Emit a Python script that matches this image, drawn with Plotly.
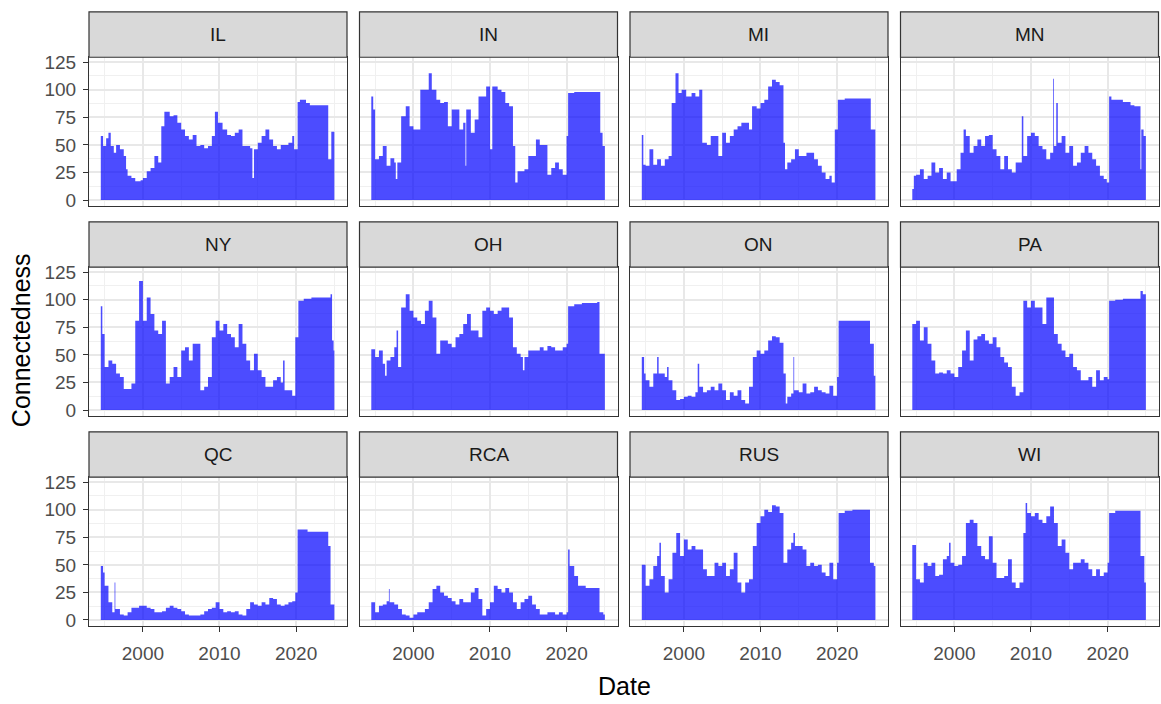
import plotly.graph_objects as go

# ---------------- data (decimal year, connectedness) ----------------
REGIONS = ["IL", "IN", "MI", "MN", "NY", "OH", "ON", "PA", "QC", "RCA", "RUS", "WI"]

IL = [(1994.5,58),(1994.8,49),(1995.2,56),(1995.5,61),(1995.8,49),(1996.2,43),(1996.5,50),(1997,46),(1997.5,40),(1997.8,28),(1998,22),(1998.5,20),(1999,17),(1999.7,18),(2000,20),(2000.5,26),(2001,29),(2001.5,40),(2002,34),(2002.4,67),(2002.8,80),(2003.5,76),(2004,77),(2004.5,70),(2005,64),(2005.5,58),(2006,55),(2006.5,59),(2007,49),(2007.5,50),(2008,47),(2008.5,49),(2009,58),(2009.4,80),(2009.8,70),(2010.4,64),(2011,59),(2011.5,58),(2012,61),(2012.5,64),(2013,49),(2014,47),(2014.3,20),(2014.5,46),(2015,52),(2015.5,58),(2016,64),(2016.5,55),(2017,49),(2017.5,46),(2018,50),(2019,52),(2019.5,58),(2019.75,46),(2020.2,89),(2020.5,91),(2021.3,88),(2021.8,86),(2024.2,37),(2024.6,62),(2025.0,62)]
IN = [(1994.5,94),(1994.75,82),(1995,37),(1995.5,40),(1996,49),(1996.5,31),(1997,38),(1997.5,34),(1997.7,19),(1997.9,34),(1998.4,76),(1999,85),(1999.5,67),(2000,64),(2000.9,100),(2002,115),(2002.4,100),(2003,91),(2003.5,88),(2004,89),(2004.5,67),(2005,82),(2006,64),(2006.5,70),(2006.8,31),(2006.9,82),(2007.5,61),(2008,73),(2008.5,94),(2009.5,103),(2010,46),(2010.3,103),(2011,100),(2011.5,98),(2012,88),(2012.5,85),(2013,49),(2013.3,16),(2013.6,26),(2014.5,28),(2015,40),(2016,55),(2016.5,50),(2017.5,23),(2018,29),(2018.5,34),(2019,28),(2019.5,23),(2020,58),(2020.2,97),(2021,98),(2024.4,61),(2024.7,49),(2025.0,49)]
MI = [(1994.5,59),(1994.7,32),(1995,31),(1995.5,46),(1996,32),(1996.5,37),(1997,31),(1997.5,37),(1998,40),(1998.4,88),(1998.9,115),(1999.3,97),(1999.7,100),(2000.3,94),(2001,97),(2001.5,94),(2002,100),(2002.4,52),(2003,50),(2003.5,58),(2004.5,40),(2005,61),(2005.5,52),(2006,58),(2006.5,64),(2007,67),(2007.5,70),(2008.5,64),(2008.9,85),(2009.5,83),(2010,88),(2010.5,91),(2011,103),(2011.5,109),(2012,107),(2012.5,104),(2013,52),(2013.2,28),(2013.5,34),(2014,37),(2014.5,46),(2015,40),(2016,43),(2017,37),(2017.5,31),(2018,25),(2018.5,19),(2019,22),(2019.3,16),(2019.7,64),(2020.1,91),(2021,92),(2024.4,64),(2025.0,64)]
MN = [(1994.5,10),(1994.7,22),(1995,23),(1995.5,28),(1996,19),(1996.5,22),(1997,34),(1997.5,25),(1998,29),(1998.5,19),(1999,25),(1999.5,17),(2000.3,28),(2000.8,43),(2001.2,64),(2001.5,58),(2002,43),(2002.5,49),(2003,55),(2003.5,49),(2004,58),(2004.5,59),(2005,46),(2005.5,40),(2006,28),(2006.5,40),(2007,28),(2007.5,25),(2008,34),(2008.8,76),(2009,40),(2009.5,58),(2010,61),(2010.5,58),(2011,49),(2011.5,46),(2012,37),(2012.5,43),(2012.9,110),(2013,49),(2013.3,88),(2013.5,52),(2014,58),(2014.5,43),(2015,49),(2015.5,31),(2016,34),(2016.5,43),(2017,49),(2017.5,43),(2018,37),(2018.5,31),(2019,22),(2019.5,19),(2019.9,16),(2020.2,94),(2020.5,91),(2022,89),(2023,86),(2023.5,85),(2024.3,28),(2024.4,64),(2024.7,58),(2025.0,58)]
NY = [(1994.5,94),(1994.7,69),(1995,39),(1995.5,45),(1996,42),(1996.5,33),(1997,30),(1997.5,19),(1998.5,24),(1999,81),(1999.5,117),(2000,81),(2000.5,102),(2001,87),(2001.5,72),(2002,69),(2002.5,81),(2003,24),(2003.5,30),(2004,39),(2004.5,30),(2005,54),(2005.5,57),(2006,45),(2006.5,60),(2007.5,18),(2008,21),(2008.5,30),(2009,66),(2009.5,81),(2010,72),(2010.5,78),(2011,69),(2011.5,66),(2012,57),(2012.5,78),(2013,60),(2013.5,45),(2014,36),(2014.5,51),(2015,36),(2015.5,30),(2016,21),(2017,27),(2017.5,30),(2018,25),(2018.3,45),(2018.5,18),(2019.5,13),(2019.9,66),(2020.3,99),(2021,101),(2022,102),(2024.5,105),(2024.7,63),(2024.9,54),(2025.0,54)]
OH = [(1994.5,55),(1995,48),(1995.5,54),(1996,42),(1996.3,31),(1996.5,45),(1997,48),(1997.5,57),(1997.8,72),(1998,39),(1998.4,93),(1999,105),(1999.5,90),(2000,84),(2000.5,81),(2001,78),(2001.5,90),(2002,99),(2002.5,84),(2003,51),(2003.5,63),(2004.5,60),(2005,57),(2005.5,66),(2006,69),(2006.5,78),(2007,87),(2007.5,72),(2008.5,66),(2009,90),(2009.5,93),(2010,90),(2010.5,87),(2011,90),(2011.5,93),(2012.5,84),(2013,57),(2013.5,51),(2014,48),(2014.3,36),(2014.5,48),(2015,54),(2016.5,57),(2017,54),(2017.5,58),(2018,57),(2018.5,54),(2019.5,57),(2020,60),(2020.2,94),(2021,96),(2022,97),(2024,98),(2024.3,51),(2025.0,49)]
ON = [(1994.5,48),(1994.8,33),(1995,27),(1995.5,21),(1996,33),(1996.5,48),(1996.7,33),(1997.5,30),(1997.8,39),(1998,27),(1998.5,18),(1999,9),(1999.5,10),(2000,12),(2000.5,13),(2001,12),(2001.5,16),(2001.8,42),(2002,21),(2002.5,16),(2003,18),(2003.5,21),(2004,18),(2004.5,24),(2005,18),(2005.5,9),(2006,16),(2006.5,13),(2007,18),(2007.5,9),(2008,6),(2008.5,21),(2009,48),(2009.5,54),(2010,51),(2010.5,54),(2011,63),(2011.5,67),(2012,66),(2012.5,61),(2013,33),(2013.3,6),(2013.5,12),(2014,15),(2014.3,48),(2014.4,18),(2015,16),(2015.5,24),(2016,15),(2016.5,16),(2017,21),(2017.5,18),(2018,16),(2018.5,15),(2019,22),(2019.5,13),(2020,30),(2020.2,81),(2024.3,60),(2024.8,31),(2025.0,31)]
PA = [(1994.5,78),(1995,81),(1995.5,63),(1996,75),(1996.5,60),(1997,45),(1997.5,33),(1998,34),(1998.5,33),(1999,36),(1999.5,33),(2000,30),(2000.5,39),(2001,54),(2001.5,72),(2002,45),(2002.5,64),(2003,67),(2003.5,69),(2004,63),(2004.5,60),(2005,66),(2005.5,57),(2006,48),(2006.5,43),(2007,39),(2007.5,21),(2008,13),(2008.5,16),(2009,99),(2009.5,93),(2010,99),(2010.5,93),(2011.5,78),(2012,102),(2013,69),(2013.5,60),(2014,54),(2014.5,48),(2015,51),(2015.5,39),(2016,36),(2016.5,27),(2017.5,30),(2018,21),(2018.5,36),(2019,27),(2019.5,30),(2020,28),(2020.2,99),(2021,100),(2022,101),(2024.3,108),(2024.6,105),(2025.0,105)]
QC = [(1994.5,49),(1994.8,43),(1995,31),(1995.5,16),(1996,7),(1996.3,34),(1996.4,10),(1997,5),(1997.5,4),(1998,7),(1998.5,11),(1999.5,13),(2000.5,11),(2001,10),(2001.5,7),(2002.5,8),(2003,11),(2003.5,13),(2004,11),(2004.5,10),(2005,8),(2005.5,5),(2006,4),(2007.5,5),(2008,8),(2008.5,10),(2009,11),(2009.5,16),(2010,10),(2010.5,7),(2011,8),(2011.5,7),(2012,8),(2012.5,5),(2013,4),(2013.5,10),(2014,16),(2014.5,14),(2015,13),(2015.5,16),(2016,14),(2016.5,20),(2017,19),(2017.5,14),(2018,13),(2018.5,14),(2019,16),(2019.5,17),(2019.9,25),(2020.2,82),(2021.5,80),(2024.2,67),(2024.5,14),(2025.0,13)]
RCA = [(1994.5,16),(1995,7),(1995.5,13),(1996,14),(1996.5,17),(1996.8,28),(1996.9,16),(1997.5,14),(1998,10),(1998.5,5),(1999,4),(1999.5,2),(2000,5),(2000.5,7),(2001.5,10),(2002,16),(2002.5,28),(2003,31),(2003.5,25),(2004,22),(2004.5,20),(2005,17),(2005.5,14),(2006,19),(2006.5,16),(2007.5,25),(2008,29),(2008.5,19),(2009,4),(2009.5,10),(2010,16),(2010.5,31),(2011,28),(2011.5,25),(2012,29),(2012.5,25),(2013,16),(2013.5,10),(2014,16),(2014.5,19),(2015,22),(2015.5,14),(2016,10),(2016.5,5),(2017.5,7),(2018.5,5),(2019,7),(2019.5,5),(2020,7),(2020.2,64),(2020.4,49),(2021,40),(2021.5,31),(2022.5,29),(2024.3,7),(2024.8,5),(2025.0,5)]
RUS = [(1994.5,50),(1995,31),(1995.5,37),(1996,49),(1996.5,58),(1996.8,70),(1997,40),(1997.5,25),(1998,37),(1998.5,61),(1999,79),(1999.5,58),(2000,73),(2000.5,64),(2001,67),(2001.5,64),(2002.5,46),(2003,40),(2004,52),(2004.5,49),(2005,52),(2005.5,40),(2006,46),(2006.5,61),(2007,34),(2007.5,25),(2008,34),(2008.5,37),(2009,67),(2009.5,88),(2010,94),(2010.5,100),(2011,98),(2011.5,104),(2012,103),(2012.5,97),(2013,52),(2013.5,64),(2014,70),(2014.3,79),(2014.5,67),(2015.5,64),(2016,49),(2016.5,52),(2017,49),(2017.5,50),(2018,43),(2018.5,40),(2019,52),(2019.5,37),(2020,52),(2020.2,97),(2021,99),(2022,100),(2024.3,52),(2024.8,49),(2025.0,49)]
WI = [(1994.5,68),(1995,37),(1995.5,34),(1996,52),(1996.5,49),(1997,52),(1997.5,40),(1998,41),(1998.5,55),(1999,58),(1999.3,70),(1999.5,52),(2000,49),(2000.5,50),(2001,58),(2001.5,88),(2002,91),(2002.5,88),(2003,67),(2003.5,58),(2004,55),(2004.5,76),(2005,52),(2005.5,38),(2006.5,40),(2007,55),(2007.5,34),(2008,29),(2008.5,34),(2009,79),(2009.3,106),(2009.5,97),(2010,94),(2010.5,97),(2011,91),(2011.5,88),(2012,94),(2012.5,103),(2013,88),(2013.5,67),(2014,73),(2014.5,61),(2015,46),(2015.5,52),(2016.5,55),(2017,52),(2017.5,46),(2018,40),(2018.5,46),(2019,40),(2019.5,43),(2020,52),(2020.2,97),(2021,99),(2024.3,58),(2024.8,34),(2025.0,34)]

SERIES = [IL, IN, MI, MN, NY, OH, ON, PA, QC, RCA, RUS, WI]

X_TICKS = [2000, 2010, 2020]
X_MINOR = [1995, 2005, 2015, 2025]
Y_TICKS = [0, 25, 50, 75, 100, 125]
Y_MINOR = [12.5, 37.5, 62.5, 87.5, 112.5]

# ---------------- layout geometry (pixels) ----------------
W, H = 1161, 704
COL_LEFT = [89, 359.5, 630, 900.5]
PANEL_W = 258
ROW_TOP = [53, 266, 479]
PANEL_H = 151
STRIP_H = 46

FONT = "Liberation Sans, Arial, sans-serif"
FILL = "rgba(0,0,255,0.7)"
TICK_SIZE = 19

fig = go.Figure()
shapes, annotations = [], []
layout_axes = {}

for i, (name, data) in enumerate(zip(REGIONS, SERIES)):
    r, c = divmod(i, 4)
    k = i + 1
    xa = "x" if k == 1 else f"x{k}"
    ya = "y" if k == 1 else f"y{k}"
    t = [p[0] for p in data]
    v = [p[1] for p in data]
    fig.add_trace(go.Scatter(
        x=t, y=v, xaxis=xa, yaxis=ya, mode="lines",
        line=dict(width=0, shape="hv", color=FILL),
        fill="tozeroy", fillcolor=FILL, showlegend=False, hoverinfo="skip"))

    left, top = COL_LEFT[c], ROW_TOP[r]
    xd = [left / W, (left + PANEL_W) / W]
    yd = [1 - (top + PANEL_H) / H, 1 - top / H]
    bottom_row = (r == 2)
    left_col = (c == 0)

    layout_axes["xaxis" if k == 1 else f"xaxis{k}"] = dict(
        domain=xd, anchor=ya, range=[1992.96, 2026.65],
        tickmode="array", tickvals=X_TICKS, ticktext=[str(x) for x in X_TICKS],
        showticklabels=bottom_row, ticks="outside" if bottom_row else "",
        ticklen=5, tickwidth=1.3, tickcolor="#333333", ticklabelstandoff=5,
        tickfont=dict(family=FONT, size=TICK_SIZE, color="#4D4D4D"),
        showgrid=True, gridcolor="#E8E8E8", gridwidth=1.5,
        minor=dict(tickmode="array", tickvals=X_MINOR, showgrid=True,
                   gridcolor="#F0F0F0", gridwidth=1),
        zeroline=False, showline=True, mirror=True,
        linecolor="#333333", linewidth=1.2)
    layout_axes["yaxis" if k == 1 else f"yaxis{k}"] = dict(
        domain=yd, anchor=xa, range=[-5.5, 129.5],
        tickmode="array", tickvals=Y_TICKS, ticktext=[str(y) for y in Y_TICKS],
        showticklabels=left_col, ticks="outside" if left_col else "",
        ticklen=5, tickwidth=1.3, tickcolor="#333333", ticklabelstandoff=3,
        tickfont=dict(family=FONT, size=TICK_SIZE, color="#4D4D4D"),
        showgrid=True, gridcolor="#E8E8E8", gridwidth=1.5,
        minor=dict(tickmode="array", tickvals=Y_MINOR, showgrid=True,
                   gridcolor="#F0F0F0", gridwidth=1),
        zeroline=False, showline=True, mirror=True,
        linecolor="#333333", linewidth=1.2)

    # facet strip
    shapes.append(dict(type="rect", xref="paper", yref="paper",
                       x0=xd[0], x1=xd[1], y0=yd[1], y1=1 - (top - STRIP_H) / H,
                       fillcolor="#D9D9D9", line=dict(color="#333333", width=1.2),
                       layer="above"))
    annotations.append(dict(text=name, xref="paper", yref="paper",
                            x=(xd[0] + xd[1]) / 2, y=1 - (top - STRIP_H / 2) / H,
                            showarrow=False, xanchor="center", yanchor="middle",
                            font=dict(family=FONT, size=19, color="#1A1A1A")))

annotations.append(dict(text="Date", xref="paper", yref="paper",
                        x=624 / W, y=1 - 691 / H, showarrow=False,
                        xanchor="center", yanchor="middle",
                        font=dict(family=FONT, size=25, color="#000000")))
annotations.append(dict(text="Connectedness", xref="paper", yref="paper",
                        x=21 / W, y=1 - 340 / H, showarrow=False, textangle=-90,
                        xanchor="center", yanchor="middle",
                        font=dict(family=FONT, size=25, color="#000000")))

fig.update_layout(
    width=W, height=H, margin=dict(l=0, r=0, t=0, b=0),
    paper_bgcolor="white", plot_bgcolor="white",
    shapes=shapes, annotations=annotations, showlegend=False,
    **layout_axes)

fig.write_html("out.html")
